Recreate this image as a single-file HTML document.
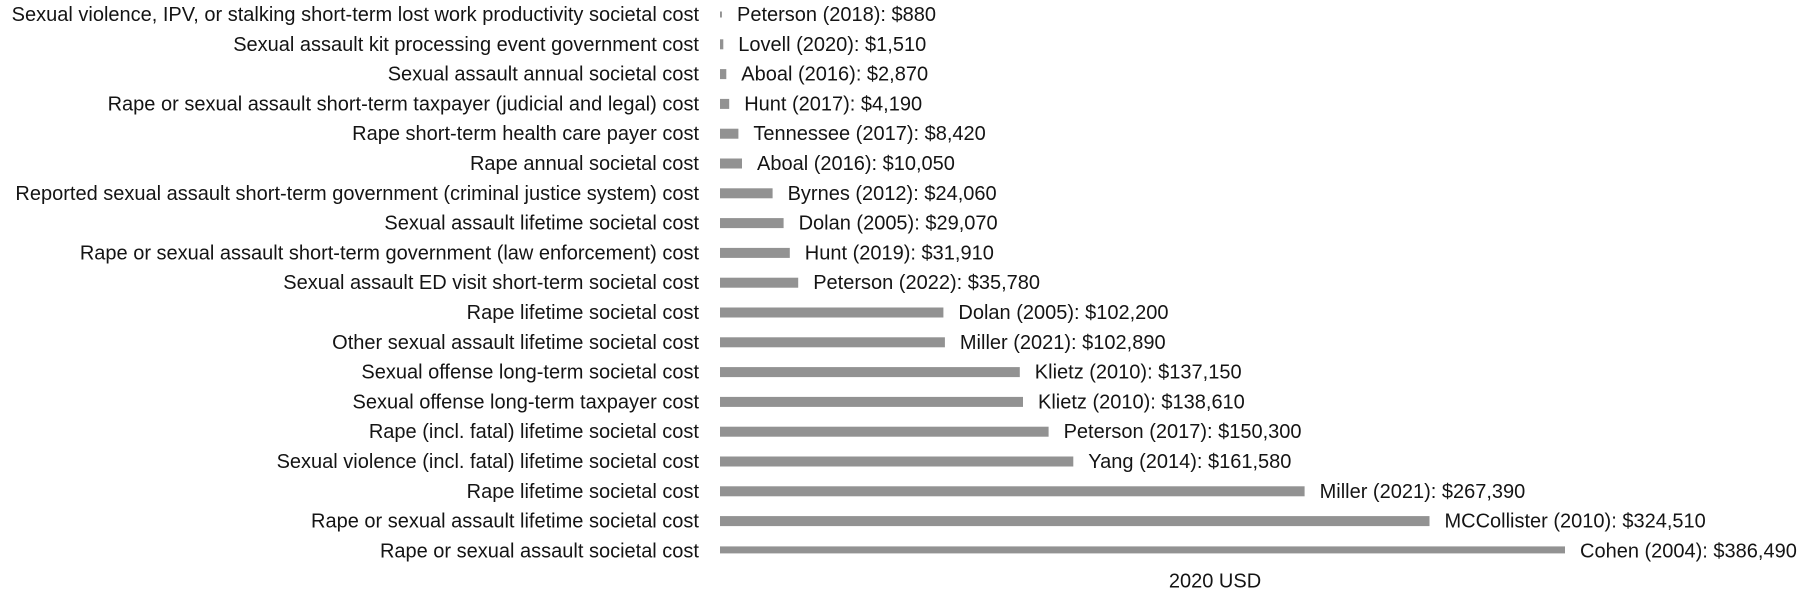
<!DOCTYPE html>
<html>
<head>
<meta charset="utf-8">
<style>
  html,body{margin:0;padding:0;background:#fff;}
  svg{display:block;}
  text{font-family:"Liberation Sans",Arial,sans-serif;font-size:20px;fill:#141414;}
  .l{text-anchor:end;}
  rect{fill:#929292;}
</style>
</head>
<body>
<svg width="1800" height="594" viewBox="0 0 1800 594" xmlns="http://www.w3.org/2000/svg">
  <!-- row centers: 14.5 + i*29.8 ; baseline = center + 6.5 -->
  <g>
    <rect x="720" y="11.5" width="1.9" height="6"/>
    <text class="l" x="699" y="21">Sexual violence, IPV, or stalking short-term lost work productivity societal cost</text>
    <text x="737" y="21">Peterson (2018): $880</text>

    <rect x="720" y="39.3" width="3.3" height="10"/>
    <text class="l" x="699" y="50.8">Sexual assault kit processing event government cost</text>
    <text x="738.3" y="50.8">Lovell (2020): $1,510</text>

    <rect x="720" y="69.1" width="6.3" height="10"/>
    <text class="l" x="699" y="80.6">Sexual assault annual societal cost</text>
    <text x="741.3" y="80.6">Aboal (2016): $2,870</text>

    <rect x="720" y="98.9" width="9.2" height="10"/>
    <text class="l" x="699" y="110.4">Rape or sexual assault short-term taxpayer (judicial and legal) cost</text>
    <text x="744.2" y="110.4">Hunt (2017): $4,190</text>

    <rect x="720" y="128.7" width="18.4" height="10"/>
    <text class="l" x="699" y="140.2">Rape short-term health care payer cost</text>
    <text x="753.4" y="140.2">Tennessee (2017): $8,420</text>

    <rect x="720" y="158.5" width="22" height="10"/>
    <text class="l" x="699" y="170">Rape annual societal cost</text>
    <text x="757" y="170">Aboal (2016): $10,050</text>

    <rect x="720" y="188.3" width="52.6" height="10"/>
    <text class="l" x="699" y="199.8">Reported sexual assault short-term government (criminal justice system) cost</text>
    <text x="787.6" y="199.8">Byrnes (2012): $24,060</text>

    <rect x="720" y="218.1" width="63.6" height="10"/>
    <text class="l" x="699" y="229.6">Sexual assault lifetime societal cost</text>
    <text x="798.6" y="229.6">Dolan (2005): $29,070</text>

    <rect x="720" y="247.9" width="69.8" height="10"/>
    <text class="l" x="699" y="259.4">Rape or sexual assault short-term government (law enforcement) cost</text>
    <text x="804.8" y="259.4">Hunt (2019): $31,910</text>

    <rect x="720" y="277.7" width="78.2" height="10"/>
    <text class="l" x="699" y="289.2">Sexual assault ED visit short-term societal cost</text>
    <text x="813.2" y="289.2">Peterson (2022): $35,780</text>

    <rect x="720" y="307.5" width="223.4" height="10"/>
    <text class="l" x="699" y="319">Rape lifetime societal cost</text>
    <text x="958.4" y="319">Dolan (2005): $102,200</text>

    <rect x="720" y="337.3" width="224.9" height="10"/>
    <text class="l" x="699" y="348.8">Other sexual assault lifetime societal cost</text>
    <text x="959.9" y="348.8">Miller (2021): $102,890</text>

    <rect x="720" y="367.1" width="299.8" height="10"/>
    <text class="l" x="699" y="378.6">Sexual offense long-term societal cost</text>
    <text x="1034.8" y="378.6">Klietz (2010): $137,150</text>

    <rect x="720" y="396.9" width="303" height="10"/>
    <text class="l" x="699" y="408.4">Sexual offense long-term taxpayer cost</text>
    <text x="1038" y="408.4">Klietz (2010): $138,610</text>

    <rect x="720" y="426.7" width="328.6" height="10"/>
    <text class="l" x="699" y="438.2">Rape (incl. fatal) lifetime societal cost</text>
    <text x="1063.6" y="438.2">Peterson (2017): $150,300</text>

    <rect x="720" y="456.5" width="353.3" height="10"/>
    <text class="l" x="699" y="468">Sexual violence (incl. fatal) lifetime societal cost</text>
    <text x="1088.3" y="468">Yang (2014): $161,580</text>

    <rect x="720" y="486.3" width="584.6" height="10"/>
    <text class="l" x="699" y="497.8">Rape lifetime societal cost</text>
    <text x="1319.6" y="497.8">Miller (2021): $267,390</text>

    <rect x="720" y="516.1" width="709.5" height="10"/>
    <text class="l" x="699" y="527.6">Rape or sexual assault lifetime societal cost</text>
    <text x="1444.5" y="527.6">MCCollister (2010): $324,510</text>

    <rect x="720" y="546.4" width="845" height="7"/>
    <text class="l" x="699" y="557.4">Rape or sexual assault societal cost</text>
    <text x="1580" y="557.4">Cohen (2004): $386,490</text>
  </g>
  <text x="1215" y="587.5" text-anchor="middle">2020 USD</text>
</svg>
</body>
</html>
